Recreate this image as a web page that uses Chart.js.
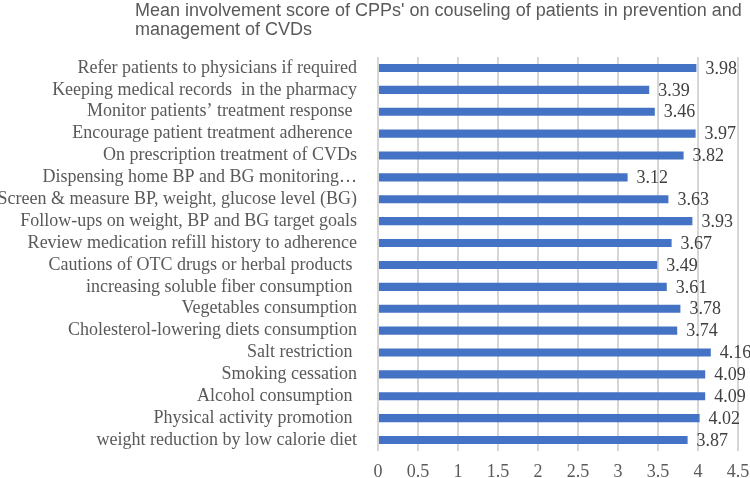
<!DOCTYPE html>
<html>
<head>
<meta charset="utf-8">
<script src="https://cdn.jsdelivr.net/npm/chart.js@4"></script>
<style>
  html, body { margin: 0; padding: 0; background: #ffffff; }
  #wrap { width: 750px; height: 478px; position: relative; }
</style>
</head>
<body>
<div id="wrap"><canvas id="scoreChart"></canvas></div>
<script>
// --- Data ---
const titleLines = [
    "Mean involvement score of CPPs' on couseling of patients in prevention and",
    "management of CVDs"
];

const activities = [
    "Refer patients to physicians if required",
    "Keeping medical records  in the pharmacy",
    "Monitor patients\u2019 treatment response ",
    "Encourage patient treatment adherence ",
    "On prescription treatment of CVDs",
    "Dispensing home BP and BG monitoring\u2026",
    "Screen & measure BP, weight, glucose level (BG)",
    "Follow-ups on weight, BP and BG target goals",
    "Review medication refill history to adherence",
    "Cautions of OTC drugs or herbal products ",
    "increasing soluble fiber consumption ",
    "Vegetables consumption",
    "Cholesterol-lowering diets consumption",
    "Salt restriction ",
    "Smoking cessation",
    "Alcohol consumption ",
    "Physical activity promotion ",
    "weight reduction by low calorie diet"
];

const meanScores = [3.98, 3.39, 3.46, 3.97, 3.82, 3.12, 3.63, 3.93, 3.67,
                    3.49, 3.61, 3.78, 3.74, 4.16, 4.09, 4.09, 4.02, 3.87];

const xMin = 0, xMax = 4.5, xStep = 0.5;

document.addEventListener('DOMContentLoaded', () => {
    const serif = "'Liberation Serif', 'Times New Roman', serif";
    const sans = "'Liberation Sans', Arial, sans-serif";

    // title in the top left, drawn by hand so it can sit where Excel put it
    const titlePlugin = {
        id: 'sheetTitle',
        afterDraw(chart) {
            const ctx = chart.ctx;
            ctx.save();
            ctx.font = '18px ' + sans;
            ctx.fillStyle = '#595959';
            ctx.textAlign = 'left';
            ctx.textBaseline = 'alphabetic';
            titleLines.forEach((line, i) => ctx.fillText(line, 135, 16 + i * 18.5));
            ctx.restore();
        }
    };

    // value next to the end of each bar
    const valueLabels = {
        id: 'valueLabels',
        afterDatasetsDraw(chart) {
            const ctx = chart.ctx;
            const meta = chart.getDatasetMeta(0);
            ctx.save();
            ctx.font = '18px ' + serif;
            ctx.fillStyle = '#404040';
            ctx.textAlign = 'left';
            ctx.textBaseline = 'middle';
            meta.data.forEach((bar, i) => {
                ctx.fillText(meanScores[i].toFixed(2), bar.x + 9, bar.y + 1);
            });
            ctx.restore();
        }
    };

    new Chart(document.getElementById('scoreChart'), {
        type: 'bar',
        data: {
            labels: activities,
            datasets: [{
                data: meanScores,
                backgroundColor: '#4472C4',
                borderWidth: 0,
                barPercentage: 0.37,
                categoryPercentage: 1.0
            }]
        },
        options: {
            indexAxis: 'y',
            responsive: true,
            maintainAspectRatio: false,
            animation: false,
            layout: { padding: { top: 57, right: 12, bottom: 0, left: 0 } },
            plugins: {
                legend: { display: false },
                title: { display: false },
                tooltip: { enabled: false }
            },
            scales: {
                x: {
                    min: xMin,
                    max: xMax,
                    afterFit: (scale) => {
                        scale.height = 27;
                        scale.paddingLeft = 0;
                        scale.paddingRight = 0;
                    },
                    grid: { color: '#d6d6d6', lineWidth: 2, drawTicks: false },
                    border: { display: false },
                    ticks: {
                        stepSize: xStep,
                        padding: 10,
                        color: '#595959',
                        font: { family: serif, size: 18 },
                        maxRotation: 0,
                        callback: (v) => String(v)
                    }
                },
                y: {
                    afterFit: (scale) => { scale.width = 378; },
                    grid: { display: false },
                    border: { display: false },
                    ticks: {
                        padding: 13,
                        color: '#595959',
                        font: { family: serif, size: 18 },
                        autoSkip: false
                    }
                }
            }
        },
        plugins: [titlePlugin, valueLabels]
    });
});
</script>
</body>
</html>
